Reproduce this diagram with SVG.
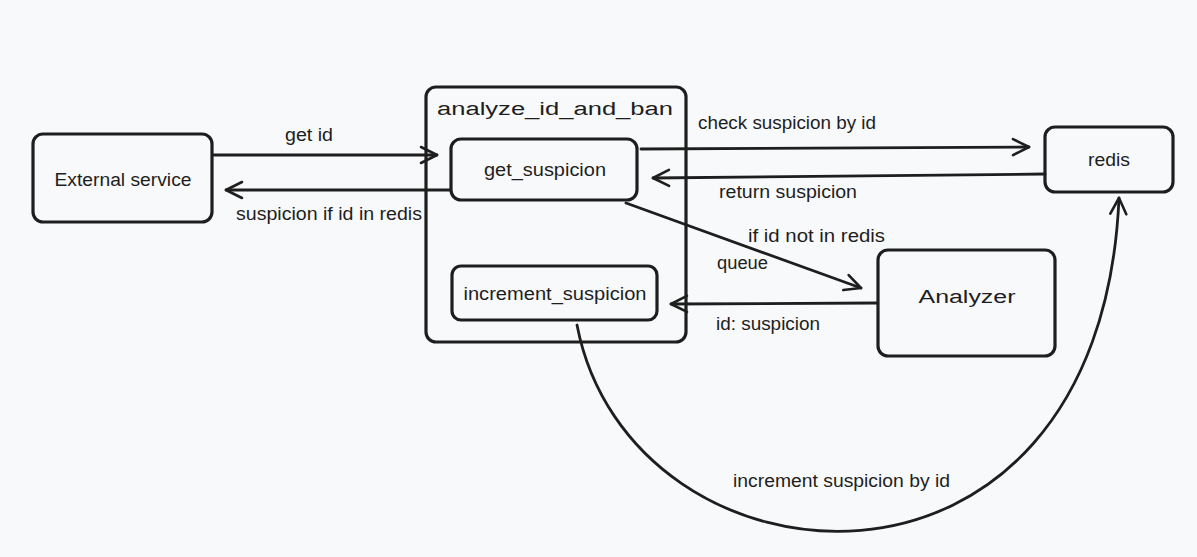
<svg xmlns="http://www.w3.org/2000/svg" width="1197" height="557" viewBox="0 0 1197 557">
<defs>
<marker id="arr" viewBox="0 0 24 24" refX="21" refY="12" markerWidth="24" markerHeight="24" markerUnits="userSpaceOnUse" orient="auto">
<path d="M5,4 L21,12 L5,20" fill="none" stroke="#1e1e1e" stroke-width="2.6" stroke-linecap="round" stroke-linejoin="round"/>
</marker>
<style>
.box{fill:none;stroke:#1e1e1e;stroke-width:3.2}
.c{fill:none;stroke:#1e1e1e;stroke-width:2.8;stroke-linecap:round;marker-end:url(#arr)}
text{font-family:"Liberation Sans",Arial,sans-serif;font-size:18px;fill:#1e1e1e}
.m{text-anchor:middle}
</style>
</defs>
<rect width="1197" height="557" fill="#f8f9fa"/>
<g id="external-service">
<rect class="box" x="33" y="134" width="179" height="88" rx="10"/>
<text class="m" x="123" y="186" textLength="137" lengthAdjust="spacingAndGlyphs">External service</text>
</g>
<g id="analyze_id_and_ban">
<rect class="box" x="426" y="87" width="260" height="255" rx="10"/>
<text x="437" y="115" font-size="22" textLength="236" lengthAdjust="spacingAndGlyphs">analyze_id_and_ban</text>
</g>
<g id="get_suspicion">
<rect class="box" x="451" y="139" width="186" height="61" rx="10"/>
<text class="m" x="545" y="176" textLength="122" lengthAdjust="spacingAndGlyphs">get_suspicion</text>
</g>
<g id="increment_suspicion">
<rect class="box" x="452" y="266" width="205" height="54" rx="9"/>
<text class="m" x="555" y="300" textLength="183" lengthAdjust="spacingAndGlyphs">increment_suspicion</text>
</g>
<g id="redis">
<rect class="box" x="1045" y="127" width="128" height="65" rx="10"/>
<text class="m" x="1109" y="166" textLength="42" lengthAdjust="spacingAndGlyphs">redis</text>
</g>
<g id="analyzer">
<rect class="box" x="878" y="250" width="177" height="106" rx="10"/>
<text class="m" x="967" y="303" font-size="24" textLength="97" lengthAdjust="spacingAndGlyphs">Analyzer</text>
</g>
<g id="connectors">
<path class="c" d="M213,155 L437,155"/>
<path class="c" d="M450,190 L226,190"/>
<path class="c" d="M641,149 L1029,147"/>
<path class="c" d="M1045,174 L653,178"/>
<path class="c" d="M626,203 L861,288"/>
<path class="c" d="M877,303 L671,304"/>
<path class="c" d="M577,325 C630,600 1100,640 1119,198"/>
</g>
<g id="labels">
<text x="285" y="141" textLength="48" lengthAdjust="spacingAndGlyphs">get id</text>
<text x="236" y="220" textLength="186" lengthAdjust="spacingAndGlyphs">suspicion if id in redis</text>
<text x="698" y="129" textLength="178" lengthAdjust="spacingAndGlyphs">check suspicion by id</text>
<text x="719" y="198" textLength="138" lengthAdjust="spacingAndGlyphs">return suspicion</text>
<text x="748" y="242" textLength="137" lengthAdjust="spacingAndGlyphs">if id not in redis</text>
<text x="717" y="269" textLength="51" lengthAdjust="spacingAndGlyphs">queue</text>
<text x="716" y="330" textLength="104" lengthAdjust="spacingAndGlyphs">id: suspicion</text>
<text x="733" y="487" textLength="217" lengthAdjust="spacingAndGlyphs">increment suspicion by id</text>
</g>
</svg>
